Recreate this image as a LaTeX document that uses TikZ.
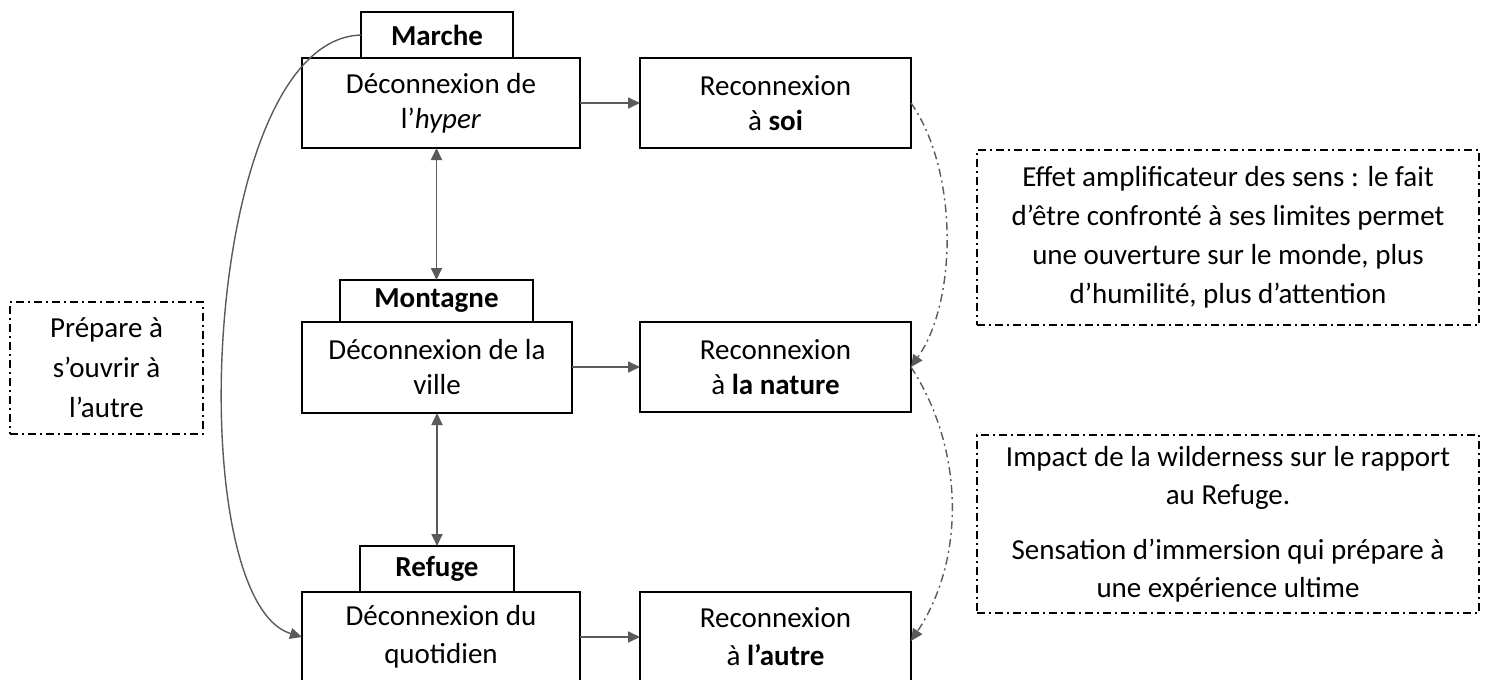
\documentclass[tikz,border=0pt]{standalone}
\usepackage{fontspec}
\setmainfont{Carlito}
\usetikzlibrary{arrows.meta}
\definecolor{arrgray}{HTML}{5A5A5A}
\begin{document}
\begin{tikzpicture}[x=1pt,y=-1pt,
  every node/.style={inner sep=0pt,outer sep=0pt},
  txt/.style={font=\fontsize{29}{35}\selectfont,align=center},
  tab/.style={draw=black,line width=1.5pt,fill=white,txt,font=\fontsize{29}{35}\selectfont\bfseries},
  mainbox/.style={draw=black,line width=1.5pt,fill=white,txt},
  notebox/.style={draw=black,line width=1.4pt,dash pattern=on 8pt off 4pt on 2pt off 4pt,txt},
  arr/.style={draw=arrgray,line width=1.8pt,-{Triangle[length=12pt,width=11pt]}},
  darr/.style={draw=arrgray,line width=1.8pt,{Triangle[length=12pt,width=11pt]}-{Triangle[length=12pt,width=11pt]}},
  carr/.style={draw=arrgray,line width=1.4pt,-{Triangle[length=12pt,width=11pt]}},
  dcarr/.style={draw=arrgray,line width=1.4pt,dash pattern=on 8pt off 4pt on 2pt off 4pt,-{Triangle[length=12pt,width=11pt]}}
]
\useasboundingbox (0,0) rectangle (1489,680);

% column 1: tabs and boxes
\node[tab,minimum width=152pt,minimum height=46pt] (tab1) at (437,35) {Marche};
\node[mainbox,minimum width=278pt,minimum height=90pt] (b1) at (441,103) {Déconnexion de\\l’\textit{hyper}};

\node[tab,minimum width=193pt,minimum height=42pt] (tab2) at (436.5,301) {Montagne};
\node[mainbox,minimum width=270pt,minimum height=91pt] (b2) at (437,367.5) {Déconnexion de la\\ville};

\node[tab,minimum width=154pt,minimum height=46pt] (tab3) at (437,569) {Refuge};
\node[mainbox,minimum width=278pt,minimum height=90pt] (b3) at (441,637) {Déconnexion du\\[3pt]quotidien};

% column 2
\node[mainbox,minimum width=271pt,minimum height=90pt] (r1) at (775.5,103) {Reconnexion\\à \textbf{soi}};
\node[mainbox,minimum width=271pt,minimum height=90pt] (r2) at (775.5,367) {Reconnexion\\à \textbf{la nature}};
\node[mainbox,minimum width=271pt,minimum height=90pt] (r3) at (775.5,637) {Reconnexion\\[3pt]à \textbf{l’autre}};

% note boxes
\node[notebox,minimum width=502pt,minimum height=175pt,font=\fontsize{29}{39}\selectfont] (d1) at (1228,237.5)
  {Effet amplificateur des sens : le fait\\d’être confronté à ses limites permet\\une ouverture sur le monde, plus\\d’humilité, plus d’attention};
\node[notebox,minimum width=502pt,minimum height=178pt,font=\fontsize{29}{38}\selectfont] (d2) at (1228,524)
  {Impact de la wilderness sur le rapport\\au Refuge.\\[17pt]Sensation d’immersion qui prépare à\\une expérience ultime};
\node[notebox,minimum width=193pt,minimum height=132pt,font=\fontsize{29}{40}\selectfont] (d3) at (106.5,368)
  {Prépare à\\s’ouvrir à\\l’autre};

% connectors
\draw[arr] (b1) -- (r1);
\draw[arr] (b2.east |- r2.west) -- (r2.west);
\draw[arr] (b3.east |- r3.west) -- (r3.west);
\draw[darr] (tab2.north |- b1.south) -- (tab2.north);
\draw[darr] (tab3.north |- b2.south) -- (tab3.north);
\draw[carr] (tab1.west) .. controls (200,40) and (180,600) .. (b3.west);
\draw[dcarr] (r1.east) .. controls (958,170) and (958,300) .. (r2.east);
\draw[dcarr] (r2.east) .. controls (965,450) and (965,560) .. ([yshift=-4pt]r3.east);
\end{tikzpicture}
\end{document}
